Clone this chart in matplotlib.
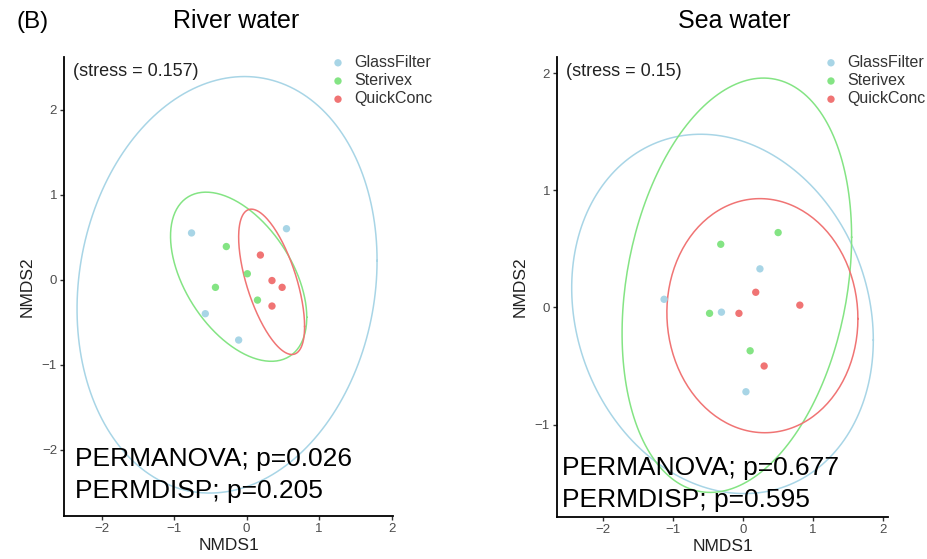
import numpy as np
import matplotlib
matplotlib.use("Agg")
import matplotlib.pyplot as plt

plt.rcParams["font.family"] = ["Liberation Sans", "DejaVu Sans"]

# -- groups ---------------------------------------------------------------------
groups = ["GlassFilter", "Sterivex", "QuickConc"]
colors = {"GlassFilter": "#A8D5E6", "Sterivex": "#84E484", "QuickConc": "#F07474"}

# -- river water NMDS scores ----------------------------------------------------
river_x = {
    "GlassFilter": [-0.76, 0.55, -0.57, -0.11],
    "Sterivex":    [-0.28, 0.01, -0.43, 0.15],
    "QuickConc":   [0.19, 0.35, 0.49, 0.35],
}
river_y = {
    "GlassFilter": [0.55, 0.60, -0.40, -0.71],
    "Sterivex":    [0.39, 0.07, -0.09, -0.24],
    "QuickConc":   [0.29, -0.01, -0.09, -0.31],
}
# 95% ellipses: centre and covariance (sxx, sxy, syy), already scaled
river_ell_center = {
    "GlassFilter": (-0.27, -0.06),
    "Sterivex":    (-0.11, 0.035),
    "QuickConc":   (0.345, -0.025),
}
river_ell_cov = {
    "GlassFilter": (2.07**2, 0.59, 2.45**2),
    "Sterivex":    (0.94**2, -0.448, 0.995**2),
    "QuickConc":   (0.455**2, -0.239, 0.855**2),
}

# -- sea water NMDS scores ------------------------------------------------------
sea_x = {
    "GlassFilter": [0.24, -1.13, -0.31, 0.04],
    "Sterivex":    [-0.32, 0.50, -0.48, 0.10],
    "QuickConc":   [0.18, 0.81, -0.06, 0.30],
}
sea_y = {
    "GlassFilter": [0.33, 0.07, -0.04, -0.72],
    "Sterivex":    [0.54, 0.64, -0.05, -0.37],
    "QuickConc":   [0.13, 0.02, -0.05, -0.50],
}
sea_ell_center = {
    "GlassFilter": (-0.295, -0.055),
    "Sterivex":    (-0.09, 0.19),
    "QuickConc":   (0.275, -0.07),
}
sea_ell_cov = {
    "GlassFilter": (2.155**2, -0.48, 1.535**2),
    "Sterivex":    (1.64**2, 0.673, 1.77**2),
    "QuickConc":   (1.365**2, -0.035, 1.0**2),
}

panels = [
    {
        "title": "River water", "title_x": 236,
        "stress": "(stress = 0.157)", "stress_xy": (73, 71),
        "stats": ["PERMANOVA; p=0.026", "PERMDISP; p=0.205"],
        "stats_xy": (75, 466),
        "legend_xy": (330, 55),
        "x": river_x, "y": river_y,
        "ell_c": river_ell_center, "ell_cov": river_ell_cov,
        "xlim": (-2.52, 2.02), "ylim": (-2.78, 2.62),
        "yticks": [-2, -1, 0, 1, 2],
        "rect": [64, 57, 393, 516],
    },
    {
        "title": "Sea water", "title_x": 734,
        "stress": "(stress = 0.15)", "stress_xy": (566, 71),
        "stats": ["PERMANOVA; p=0.677", "PERMDISP; p=0.595"],
        "stats_xy": (562, 475),
        "legend_xy": (823, 55),
        "x": sea_x, "y": sea_y,
        "ell_c": sea_ell_center, "ell_cov": sea_ell_cov,
        "xlim": (-2.66, 2.07), "ylim": (-1.79, 2.14),
        "yticks": [-1, 0, 1, 2],
        "rect": [557, 57, 888, 517],
    },
]

W, H = 927, 559
fig = plt.figure(figsize=(W / 100, H / 100), dpi=100)


def px(x, y):
    # pixel position (from top-left) -> figure fraction
    return x / W, 1 - y / H


def ellipse_path(center, cov, n=200):
    sxx, sxy, syy = cov
    L = np.linalg.cholesky(np.array([[sxx, sxy], [sxy, syy]]))
    t = np.linspace(0, 2 * np.pi, n)
    pts = L @ np.vstack([np.cos(t), np.sin(t)])
    return pts[0] + center[0], pts[1] + center[1]


for p in panels:
    x0, y0, x1, y1 = p["rect"]
    ax = fig.add_axes([x0 / W, 1 - y1 / H, (x1 - x0) / W, (y1 - y0) / H])

    for g in groups:
        ex, ey = ellipse_path(p["ell_c"][g], p["ell_cov"][g])
        ax.plot(ex, ey, color=colors[g], lw=1.1, zorder=2)
    for g in groups:
        ax.scatter(p["x"][g], p["y"][g], s=28, color=colors[g],
                   edgecolors="none", zorder=3, label=g)

    ax.set_xlim(*p["xlim"])
    ax.set_ylim(*p["ylim"])
    ax.set_xticks([-2, -1, 0, 1, 2])
    ax.set_yticks(p["yticks"])
    for s in ["top", "right"]:
        ax.spines[s].set_visible(False)
    for s in ["left", "bottom"]:
        ax.spines[s].set_linewidth(1.3)
        ax.spines[s].set_color("black")
    ax.tick_params(length=3, width=1, color="#333333", labelsize=9.5,
                   labelcolor="#4D4D4D", pad=2)
    ax.set_xlabel("NMDS1", fontsize=12.5, color="#222222", labelpad=2)
    ax.set_ylabel("NMDS2", fontsize=12.5, color="#222222", labelpad=5)

    fig.text(*px(p["title_x"], 28), p["title"], fontsize=18,
             ha="center", va="baseline")
    fig.text(*px(*p["stress_xy"]), p["stress"], fontsize=13,
             ha="left", va="center", color="#222222")
    sx, sy = p["stats_xy"]
    for i, line in enumerate(p["stats"]):
        fig.text(*px(sx, sy + 32 * i), line, fontsize=19,
                 ha="left", va="baseline", color="black")

    leg = ax.legend(loc="upper left", bbox_to_anchor=px(*p["legend_xy"]),
                    bbox_transform=fig.transFigure, frameon=False,
                    fontsize=11.5, handletextpad=0.5, labelspacing=0.2,
                    borderaxespad=0, borderpad=0, handlelength=1.0)
    for t in leg.get_texts():
        t.set_color("#333333")

fig.text(*px(17, 28), "(B)", fontsize=17.5, va="baseline", ha="left")

fig.savefig("out.png", dpi=100)
